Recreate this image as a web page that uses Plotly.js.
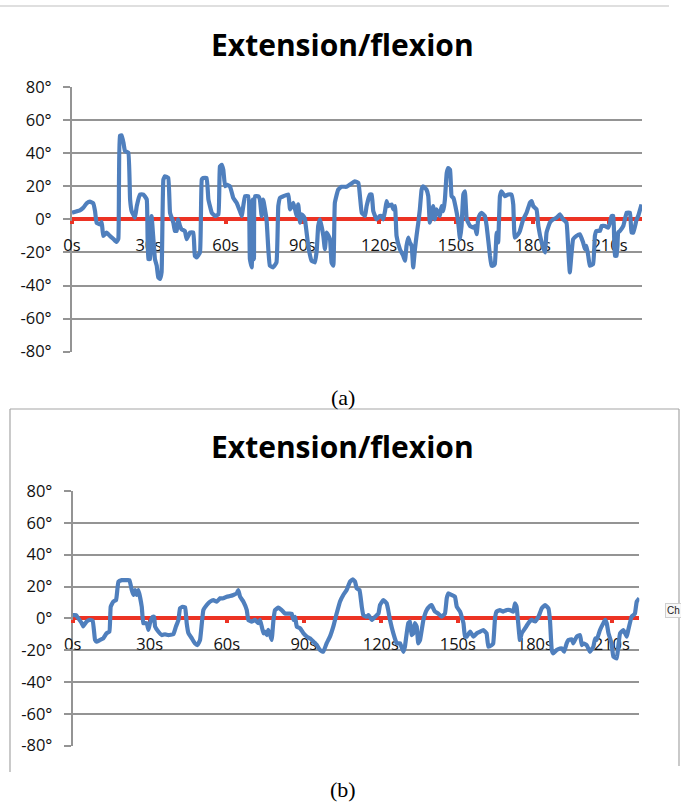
<!DOCTYPE html>
<html>
<head>
<meta charset="utf-8">
<script src="https://cdn.plot.ly/plotly-3.0.1.min.js"></script>
<style>
  html, body { margin: 0; padding: 0; background: #fff; }
  #chart { width: 681px; height: 804px; }
</style>
</head>
<body>
<div id="chart"></div>
<script>
// ---- Data ----
const chartTitle = "Extension/flexion";
const tickTimes = [0, 30, 60, 90, 120, 150, 180, 210];
const tickLabels = ["0s", "30s", "60s", "90s", "120s", "150s", "180s", "210s"];
const angleTicks = [-80, -60, -40, -20, 0, 20, 40, 60, 80];
const angleLabels = ["-80°", "-60°", "-40°", "-20°", "0°", "20°", "40°", "60°", "80°"];

// Panel (a)
const timeA = [0,3.1,4.4,5.7,7.0,8.3,9.0,9.6,10.9,11.6,12.2,13.5,14.8,16.1,17.4,18.1,18.7,19.4,20.1,20.7,22.0,22.7,23.3,24.6,25.3,26.6,27.9,29.2,29.8,30.5,31.1,31.8,32.4,33.1,33.7,34.4,35.0,35.7,36.3,37.6,38.3,39.6,40.2,40.9,41.5,42.2,42.8,44.1,44.8,46.1,47.4,48.0,48.7,50.0,50.7,51.3,52.6,53.3,54.6,55.9,57.2,57.8,58.5,59.1,59.8,60.4,61.7,63.0,64.3,65.6,66.3,67.6,68.9,69.5,70.2,70.6,71.1,71.5,72.8,73.4,74.1,74.7,76.0,76.7,77.3,78.6,79.9,80.6,81.3,82.6,84.5,85.2,86.5,87.8,88.4,89.1,89.7,90.4,91.0,92.3,93.6,94.9,95.6,96.2,96.9,98.2,98.8,99.5,100.8,101.4,102.1,102.7,104.0,105.3,107.3,108.6,110.5,111.9,113.2,114.5,115.1,116.4,117.1,117.7,119.0,120.3,121.0,121.6,122.3,122.9,123.6,124.9,125.5,126.2,126.8,128.1,129.4,130.1,130.7,131.4,132.0,132.7,133.3,134.0,134.6,135.3,135.9,136.6,137.2,138.5,139.2,139.8,140.5,141.1,141.8,142.4,143.7,144.4,145.1,145.7,146.4,147.0,147.7,148.3,149.0,150.3,150.9,151.6,152.2,152.9,153.5,154.2,154.8,155.5,156.8,157.4,158.1,158.7,159.4,160.0,161.3,162.0,163.3,163.9,164.6,165.2,165.9,166.5,167.2,167.8,169.1,170.4,171.7,172.4,173.0,174.3,175.0,176.3,177.6,178.9,179.6,180.2,181.5,182.2,183.5,184.8,185.4,186.7,188.0,189.3,190.6,191.9,193.2,193.9,194.5,195.2,195.8,197.1,198.4,199.7,200.4,201.0,201.7,202.3,203.6,204.3,204.9,206.3,206.9,208.2,209.5,210.2,210.8,211.5,212.1,212.8,213.4,214.1,215.4,216.7,218.0,218.6,219.3,220.6,221.2,222.5];
const angleA = [4,5.4,7,9.7,10.7,9.7,5,-2,-3,-1.6,-10,-8,-10,-11.7,-13.7,-11.7,50.4,50.8,46.3,41.3,40.3,12,5,1,8,15,15,12,-24,-24,2,-12,-24,-28,-35,-36,-32,24,26,25,4,-2,-7,-7,0,-4,-6,-7,-12,-8,-8,-22,-23,-20,24,25,25,12,4,2,3,32,33,30,20,21,20,13,10,5,2,14,14,-24,-29,12,-24,14,14,12,2,12,0,-18,-28,-29,-26,8,13,14,15,6,10,2,9,-2,3,2,0,-16,-25,-26,-19,-4,0,-10,-18,-8,-12,-26,-28,10,18,19.7,19.7,21,23,22,4,2,8,15,15,5,0,2,2,0,5,11,8,9,6,8,-10,-18,-22,-25,-16,-11,-14,-16,-29,-18,-10,-2,6,18,20,18,14,-2,2,8,0,6,2,8,5,12,28,31,30,14,13,4,-2,-12,-4,15,17,0,-2,-4,-5,-4,-9,0,3,4,2,-4,-22,-28,-28,-27,-8,-14,14,17,14,15,15,9,-11,-9,-7,0,4,10,11,8,6,-4,-14,-20,-8,-2,0,1,3,0,-2,-18,-32,-20,-12,-10,-9,-14,-18,-16,-22,-28,-27,-10,-7,-7,-4,-4,-5,-2,2,2,-22,-22,-8,-7,-4,4,4,-8,-8,0,2,9];

// Panel (b)
const timeB = [0,1.3,2.2,3.5,4.1,5.4,6.7,7.8,8.7,9.3,10.6,11.9,13.2,14.3,14.8,15.8,16.9,17.8,19.1,21.0,22.1,23.0,23.6,24.3,24.9,25.6,26.9,27.5,28.8,29.5,30.1,31.2,31.7,32.1,33.4,34.7,36.0,37.3,39.2,40.2,41.2,41.8,42.8,43.8,44.4,45.1,46.4,47.6,48.6,49.6,50.9,52.2,53.5,54.8,56.1,57.4,58.7,60.0,61.3,62.6,63.9,64.5,65.2,66.5,67.8,68.4,69.7,71.0,72.3,73.0,74.3,74.9,75.6,76.2,76.9,77.5,78.2,78.8,80.1,81.4,82.7,84.0,85.3,86.0,86.6,87.3,88.6,89.9,91.2,92.5,93.8,95.1,96.3,97.6,98.9,100.2,101.5,102.8,104.1,105.4,106.7,108.0,109.1,110.0,110.6,111.7,112.6,113.2,114.5,115.2,116.5,117.8,119.1,119.7,121.0,122.3,122.9,123.6,124.9,126.2,127.5,128.8,129.4,130.7,131.4,132.0,132.7,133.3,134.0,134.6,135.3,136.6,137.9,139.2,139.8,141.1,142.4,143.7,145.0,145.7,146.3,147.6,148.9,149.6,150.9,152.2,152.8,153.5,154.8,156.1,157.4,158.7,159.9,161.2,161.9,163.2,163.8,164.5,165.1,166.4,167.7,169.0,170.3,171.6,172.3,172.9,174.2,174.9,176.2,177.5,178.8,180.1,181.4,182.7,184.0,185.3,185.9,186.6,187.2,188.5,189.8,190.5,191.4,192.4,193.1,194.4,195.0,196.3,197.6,198.3,198.9,200.2,201.5,202.8,203.5,204.1,205.4,206.7,207.4,208.0,208.7,209.9,210.6,211.9,212.5,213.2,214.5,215.8,216.4,217.7,218.4,219.0,219.7,220.7];
const angleB = [2,2,0,-3,-5,-2,-1,-1.5,-13.6,-14.7,-13.6,-12.6,-9.4,-8.4,7.3,10.5,11.5,23,24,24,24,17.8,14.7,17.8,14.7,17.8,7.3,-3,-3,-7.3,-3,1,1,-5.2,-8.4,-10.5,-10,-10.5,-10,-5.2,-1,6.3,7.3,6.9,-3,-9.4,-12.6,-15.7,-16.8,-13.6,5.2,8.4,10.5,11.5,10.5,12.6,12.6,13.6,14,14.7,15.7,17.8,13.6,10.5,5.2,-1,-2,-1,-3,-1,-9.4,-8.4,-10.5,-7.3,-10.5,-13.6,-1,5.2,6.7,5.2,3,3,3,-1,1,-5.2,-6.3,-9.4,-11.5,-12.6,-14.7,-16.8,-19.9,-21,-15.7,-11.5,-5.2,3,10.5,14.7,17.8,23,24.5,23,18.9,17.8,7.3,2,1,2,-1,1,3,8.4,11.5,9.4,5.2,-1,-9.4,-15.7,-15.7,-21,-17.8,-3,-2,-10.5,-9.4,-3,-5.2,-15.7,-13.6,-1,5.2,7.8,8.4,4.2,3,1,3,12.6,15.7,14.7,13.6,7.3,4.2,-3,-11.5,-11.5,-8.4,-11.5,-9.4,-8.4,-7.3,-9.4,-17.8,-16.8,-15.7,0,4.2,5.2,4.2,5.2,5.2,4.2,9.4,7.3,-13.6,-9.4,-6.3,-3,-1,-2,1,6.3,8.4,6.3,-1,-19.9,-22,-19.9,-18.9,-18.9,-21,-15.7,-13.6,-13.2,-15.7,-11.5,-10.5,-16.8,-15.7,-16.8,-21,-17.8,-12.6,-13.6,-7.3,-3,-1,-3,-9.4,-15.7,-24,-25.2,-17.8,-9.4,-7.3,-11.5,-7.3,1,2,3,10.5,12.6];

// ---- Layout helpers (page pixels -> paper fractions) ----
const W = 681, H = 804;
const px = v => v / W;
const py = v => 1 - v / H;

const gridGray = "#949494";
const red = "#ec3324";
const blue = "#4f7fbd";
const tickFont = { family: "Open Sans, sans-serif", size: 16.5, color: "#111" };

function xAxis(domain, rangeEnd, zeroPos) {
  return {
    domain: domain, range: [0, rangeEnd], anchor: "free", position: zeroPos,
    tickmode: "array", tickvals: tickTimes, ticktext: tickLabels,
    showgrid: false, zeroline: false,
    showline: true, linecolor: red, linewidth: 4,
    ticks: "outside", tickcolor: red, tickwidth: 4, ticklen: 3,
    tickfont: tickFont, ticklabelstandoff: 7,
    layer: "below traces", fixedrange: true
  };
}
function yAxis(domain, anchor) {
  return {
    domain: domain, range: [-80, 80], anchor: anchor,
    tickmode: "array", tickvals: angleTicks, ticktext: angleLabels,
    showgrid: true, gridcolor: gridGray, gridwidth: 2,
    zeroline: false, showline: true, linecolor: gridGray, linewidth: 2,
    ticks: "outside", tickcolor: gridGray, tickwidth: 2, ticklen: 7,
    tickfont: tickFont, ticklabelstandoff: 8,
    layer: "below traces", fixedrange: true
  };
}

const traces = [
  { x: timeA, y: angleA, xaxis: "x", yaxis: "y", type: "scatter", mode: "lines",
    line: { color: blue, width: 4.2, shape: "spline", smoothing: 0.3 }, hoverinfo: "skip" },
  { x: timeB, y: angleB, xaxis: "x2", yaxis: "y2", type: "scatter", mode: "lines",
    line: { color: blue, width: 4.2, shape: "spline", smoothing: 0.3 }, hoverinfo: "skip" }
];

const titleFont = { family: "Open Sans, sans-serif", size: 30, color: "#000", weight: "bold" };
const capFont = { family: "Liberation Serif, Times New Roman, serif", size: 22, color: "#000" };

const layout = {
  width: W, height: H,
  margin: { l: 0, r: 0, t: 0, b: 0 },
  paper_bgcolor: "#fff", plot_bgcolor: "rgba(0,0,0,0)",
  showlegend: false,
  xaxis: xAxis([px(72), px(642)], 222.7, py(219.35)),
  yaxis: yAxis([py(351.7), py(87)], "x"),
  xaxis2: xAxis([px(72.7), px(639.3)], 220.7, py(618.35)),
  yaxis2: yAxis([py(745.7), py(491)], "x2"),
  annotations: [
    { text: "<b>" + chartTitle + "</b>", xref: "paper", yref: "paper", x: px(342), y: py(45),
      xanchor: "center", yanchor: "middle", showarrow: false, font: titleFont },
    { text: "<b>" + chartTitle + "</b>", xref: "paper", yref: "paper", x: px(342), y: py(446),
      xanchor: "center", yanchor: "middle", showarrow: false, font: titleFont },
    { text: "(a)", xref: "paper", yref: "paper", x: px(343), y: py(397),
      xanchor: "center", yanchor: "middle", showarrow: false, font: capFont },
    { text: "(b)", xref: "paper", yref: "paper", x: px(343), y: py(789),
      xanchor: "center", yanchor: "middle", showarrow: false, font: capFont },
    { text: "Ch", xref: "paper", yref: "paper", x: px(665), y: py(610),
      xanchor: "left", yanchor: "middle", showarrow: false,
      font: { family: "Liberation Sans, Arial, sans-serif", size: 10, color: "#222" },
      bgcolor: "#f7f7f7", bordercolor: "#cfcfcf", borderwidth: 1, borderpad: 1 }
  ],
  shapes: [
    { type: "line", xref: "paper", yref: "paper", x0: 0, x1: px(669), y0: py(6), y1: py(6),
      line: { color: "#d4d4d4", width: 1.5 } },
    { type: "line", xref: "paper", yref: "paper", x0: px(10), x1: px(679), y0: py(409), y1: py(409),
      line: { color: "#a6a6a6", width: 1.2 } },
    { type: "line", xref: "paper", yref: "paper", x0: px(10), x1: px(10), y0: py(409), y1: py(772),
      line: { color: "#a6a6a6", width: 1.2 } },
    { type: "line", xref: "paper", yref: "paper", x0: px(679), x1: px(679), y0: py(409), y1: py(766),
      line: { color: "#a6a6a6", width: 1.2 } }
  ]
};

Plotly.newPlot("chart", traces, layout, { staticPlot: true, displayModeBar: false });
</script>
</body>
</html>
